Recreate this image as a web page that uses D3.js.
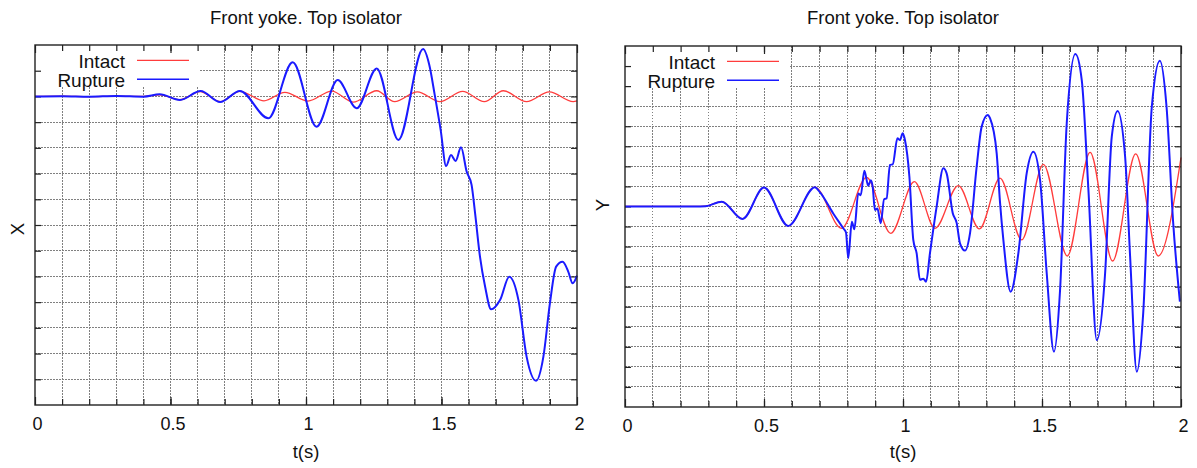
<!DOCTYPE html>
<html>
<head>
<meta charset="utf-8">
<script src="https://cdn.jsdelivr.net/npm/d3@7/dist/d3.min.js"></script>
<style>
  body { margin: 0; background: #fff; }
  svg { display: block; font-family: "Liberation Sans", Arial, sans-serif; }
</style>
</head>
<body>
<svg id="chart" width="1197" height="468"></svg>
<script>
/* data: [t (s), value in grid units] */
const xIntact = [
  [0,0],[0.1,0.01],[0.2,-0.01],[0.3,0.01],[0.4,0],[0.46,0.06],[0.535,-0.13],[0.609,0.19],
  [0.683,-0.2],[0.756,0.2],[0.845,-0.17],[0.922,0.16],[1.007,-0.18],[1.095,0.21],[1.174,-0.22],
  [1.261,0.22],[1.327,-0.2],[1.411,0.18],[1.494,-0.2],[1.578,0.2],[1.658,-0.2],[1.728,0.22],
  [1.814,-0.2],[1.898,0.18],[1.986,-0.2],[2.0,-0.17]
];
const xRupture = [
  [0,0],[0.1,0.01],[0.2,-0.01],[0.3,0.02],[0.4,-0.01],[0.46,0.08],[0.535,-0.14],[0.611,0.21],
  [0.683,-0.22],[0.756,0.21],[0.861,-0.85],[0.951,1.33],[1.039,-1.18],[1.117,0.64],[1.187,-0.46],
  [1.261,1.09],[1.341,-1.69],[1.432,1.84],[1.455,1.22],[1.475,0.06],[1.497,-1.31],[1.517,-2.71],
  [1.535,-2.28],[1.552,-2.51],[1.572,-1.98],[1.593,-2.93],[1.611,-3.44],[1.624,-4.55],[1.642,-6.23],
  [1.661,-7.4],[1.683,-8.28],[1.716,-7.92],[1.75,-7.01],[1.784,-7.92],[1.814,-10.12],[1.849,-11.06],
  [1.876,-10.12],[1.9,-8.05],[1.923,-6.62],[1.947,-6.43],[1.968,-6.82],[1.984,-7.27],[2.0,-6.97]
];
const yIntact = [
  [0,0],[0.25,0],[0.29,0.02],[0.348,0.24],[0.423,-0.62],[0.5,0.94],[0.587,-0.97],[0.683,0.96],
  [0.779,-1.09],[0.869,1.45],[0.956,-1.34],[1.041,1.24],[1.115,-1.09],[1.199,1.04],[1.275,-1.12],
  [1.349,1.41],[1.427,-1.67],[1.505,2.1],[1.591,-2.47],[1.673,2.7],[1.754,-2.72],[1.837,2.62],
  [1.918,-2.47],[2.0,2.44]
];
const yRupture = [
  [0,0],[0.25,0],[0.29,0.01],[0.348,0.24],[0.423,-0.62],[0.5,0.94],[0.587,-0.97],[0.683,0.96],
  [0.701,0.71],[0.749,-0.35],[0.785,-1.09],[0.795,-1.3],[0.803,-2.58],[0.816,-0.76],[0.825,-1.14],
  [0.839,0.65],[0.848,0.56],[0.861,1.78],[0.875,1.03],[0.884,1.31],[0.891,0.98],[0.899,-0.18],
  [0.908,-0.1],[0.92,-0.84],[0.932,0.36],[0.941,0.4],[0.953,2.07],[0.963,2.1],[0.98,3.4],
  [0.989,3.31],[0.999,3.65],[1.007,3.31],[1.023,1.48],[1.037,-1.67],[1.049,-2.33],[1.061,-3.66],
  [1.073,-3.6],[1.083,-3.75],[1.097,-2.33],[1.121,-0.01],[1.145,1.9],[1.157,1.65],[1.179,-0.34],
  [1.193,-0.82],[1.205,-1.84],[1.223,-2.2],[1.241,-1.34],[1.265,1.98],[1.283,3.98],[1.305,4.56],
  [1.313,4.4],[1.337,2.65],[1.349,0.2],[1.361,-1.67],[1.387,-4.25],[1.415,-2.33],[1.445,1.66],
  [1.469,2.73],[1.493,1.32],[1.517,-3.33],[1.543,-7.24],[1.565,-4.16],[1.589,4.15],[1.62,7.6],
  [1.643,6.3],[1.667,0.82],[1.697,-6.66],[1.727,-3.33],[1.751,3.48],[1.772,4.76],[1.799,2.48],
  [1.817,-2.51],[1.841,-8.24],[1.864,-5.33],[1.895,4.97],[1.924,7.27],[1.948,4.97],[1.972,-0.84],
  [1.996,-4.75]
];

const majorTicks = [0, 0.5, 1, 1.5, 2];
const tickLabels = ["0", "0.5", "1", "1.5", "2"];
const seriesNames = ["Intact", "Rupture"];
const titles = ["Front yoke. Top isolator", "Front yoke. Top isolator"];
const axisNames = ["X", "Y"];

const intactColor = "#ff3c3c";
const ruptureColor = "#1a1aff";

const svg = d3.select("#chart");

function drawPanel(p) {
  const g = svg.append("g");
  const x = d3.scaleLinear().domain([0, 2]).range([p.left, p.right]);
  const y = d3.scaleLinear().domain(p.yDomain).range([p.bottom, p.top]);
  const minor = d3.range(1, 20).map(i => i / 10);
  const yGrid = d3.range(p.yDomain[0] + 1, p.yDomain[1]);

  // grid
  g.append("g").selectAll("line").data(minor).join("line")
    .attr("x1", d => x(d)).attr("x2", d => x(d))
    .attr("y1", p.top).attr("y2", p.bottom);
  g.append("g").selectAll("line").data(yGrid).join("line")
    .attr("x1", p.left).attr("x2", p.right)
    .attr("y1", d => y(d)).attr("y2", d => y(d));
  g.selectAll("line")
    .attr("stroke", "#808080").attr("stroke-width", 1)
    .attr("stroke-dasharray", "1.5,1.5").attr("shape-rendering", "crispEdges");

  // legend background hides grid
  g.append("rect")
    .attr("x", p.left).attr("y", p.top)
    .attr("width", 164).attr("height", 42)
    .attr("fill", "#fff");

  // ticks
  const tickStyle = sel => {
    sel.select(".domain").remove();
    sel.selectAll(".tick line").attr("stroke", "#222").attr("stroke-width", 1.2);
  };
  g.append("g").attr("transform", `translate(0,${p.bottom})`)
    .call(d3.axisBottom(x).tickValues(minor).tickSize(-6).tickFormat("")).call(tickStyle);
  g.append("g").attr("transform", `translate(0,${p.top})`)
    .call(d3.axisTop(x).tickValues(minor).tickSize(-6).tickFormat("")).call(tickStyle);
  g.append("g").attr("transform", `translate(0,${p.top})`)
    .call(d3.axisTop(x).tickValues(majorTicks).tickSize(-8).tickFormat("")).call(tickStyle);
  const xAx = g.append("g").attr("transform", `translate(0,${p.bottom})`)
    .call(d3.axisBottom(x).tickValues(majorTicks).tickSize(-8).tickPadding(12)
      .tickFormat((d, i) => tickLabels[i]))
    .call(tickStyle);
  xAx.selectAll("text")
    .attr("font-size", 18).attr("font-family", "Liberation Sans, Arial, sans-serif")
    .attr("fill", "#111").attr("dx", 2);
  g.append("g").attr("transform", `translate(${p.left},0)`)
    .call(d3.axisLeft(y).tickValues(yGrid).tickSize(-6).tickFormat("")).call(tickStyle);
  g.append("g").attr("transform", `translate(${p.right},0)`)
    .call(d3.axisRight(y).tickValues(yGrid).tickSize(-6).tickFormat("")).call(tickStyle);

  // series
  const line = d3.line().x(d => x(d[0])).y(d => y(d[1])).curve(d3.curveMonotoneX);
  g.append("path").datum(p.intact).attr("d", line)
    .attr("fill", "none").attr("stroke", intactColor).attr("stroke-width", 1.3);
  g.append("path").datum(p.rupture).attr("d", line)
    .attr("fill", "none").attr("stroke", ruptureColor).attr("stroke-width", 2)
    .attr("stroke-linejoin", "round");

  // frame
  g.append("rect")
    .attr("x", p.left).attr("y", p.top)
    .attr("width", p.right - p.left).attr("height", p.bottom - p.top)
    .attr("fill", "none").attr("stroke", "#222").attr("stroke-width", 1.4);

  // legend
  const leg = g.append("g").attr("transform", `translate(${p.left},${p.top})`);
  [intactColor, ruptureColor].forEach((c, i) => {
    leg.append("text").attr("x", 90).attr("y", 22.5 + i * 19)
      .attr("text-anchor", "end").attr("font-size", 19).attr("fill", "#111")
      .text(seriesNames[i]);
    leg.append("line").attr("x1", 102).attr("x2", 154)
      .attr("y1", 15.3 + i * 19).attr("y2", 15.3 + i * 19)
      .attr("stroke", c).attr("stroke-width", i === 0 ? 1.3 : 1.6);
  });

  // titles and axis names
  const cx = (p.left + p.right) / 2;
  g.append("text").attr("x", cx).attr("y", 23.5).attr("text-anchor", "middle")
    .attr("font-size", 18.5).attr("fill", "#111").text(p.title);
  g.append("text").attr("x", cx).attr("y", 458).attr("text-anchor", "middle")
    .attr("font-size", 18.5).attr("fill", "#111").text("t(s)");
  g.append("text").attr("transform", `translate(${p.yLabelX},${p.yLabelY}) rotate(-90)`)
    .attr("text-anchor", "middle").attr("font-size", 18.5).attr("fill", "#111")
    .text(p.axisName);
}

drawPanel({
  left: 35, right: 577, top: 45, bottom: 405, yDomain: [-12, 2],
  intact: xIntact, rupture: xRupture, title: titles[0], axisName: axisNames[0],
  yLabelX: 24, yLabelY: 229
});
drawPanel({
  left: 625, right: 1181, top: 46, bottom: 407, yDomain: [-10, 8],
  intact: yIntact, rupture: yRupture, title: titles[1], axisName: axisNames[1],
  yLabelX: 609, yLabelY: 205
});
</script>
</body>
</html>
